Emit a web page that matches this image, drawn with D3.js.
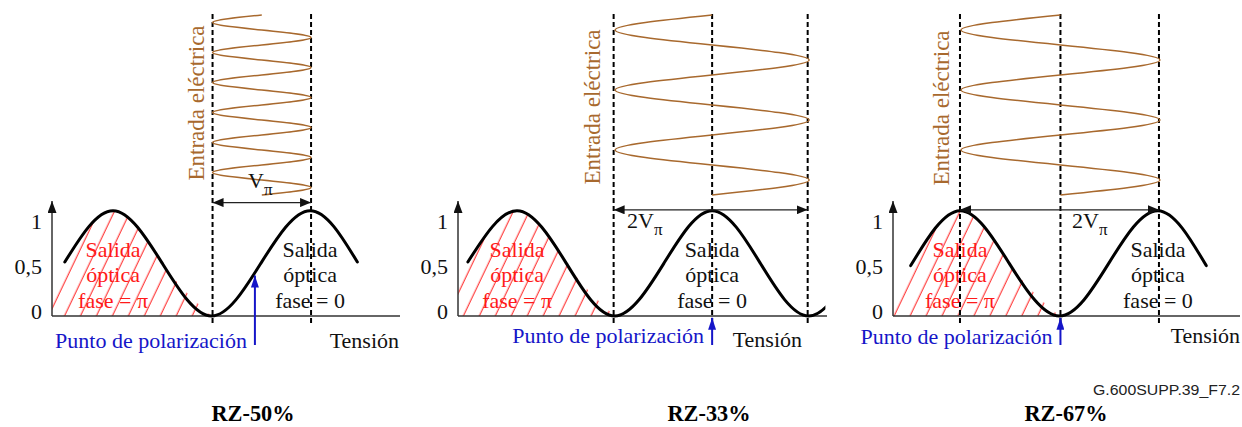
<!DOCTYPE html>
<html>
<head>
<meta charset="utf-8">
<script src="https://cdn.jsdelivr.net/npm/d3@7"></script>
<style>
  body { margin: 0; background: #fff; }
  svg { display: block; }
  text { font-family: "Liberation Serif", "Times New Roman", serif; }
</style>
</head>
<body>
<svg width="1242" height="427"></svg>
<script>
// Data (voltage in units of Vpi, optical output normalised)
var panelTitles = ["RZ-50%", "RZ-33%", "RZ-67%"];
var yTickValues = [0, 0.5, 1];
var yTickText = ["0", "0,5", "1"];

// transfer curve samples (quarter periods)
var optV = [
  [0.13, 0.62, 1.12, 1.62, 2.12, 2.62, 3.1],
  [0.1, 0.6, 1.1, 1.59, 2.09, 2.58, 3.07, 3.56, 4.05],
  [0.18, 0.68, 1.18, 1.69, 2.19, 2.69, 3.18]
];
var optP = [
  [0.6, 1.17, 0.585, 0, 0.585, 1.17, 0.6],
  [0.6, 1.17, 0.585, 0, 0.585, 1.17, 0.585, 0, 0.585],
  [0.56, 1.17, 0.585, 0, 0.585, 1.17, 0.56]
];
// where each drawn curve stops
var curveEnd = [3.2, 3.73, 3.25];
// hatched "fase = pi" region, from the axis to the first minimum
var hatchV = [
  [0, 0.13, 0.62, 1.12, 1.62],
  [0, 0.1, 0.6, 1.1, 1.59],
  [0, 0.18, 0.68, 1.18, 1.69]
];
var hatchP = [
  [0.33, 0.6, 1.17, 0.585, 0],
  [0.33, 0.6, 1.17, 0.585, 0],
  [0.25, 0.56, 1.17, 0.585, 0]
];

var dashV = [[1.63, 2.63], [1.58, 2.58, 3.55], [0.68, 1.7, 2.7]];
var biasV = [2.13, 2.58, 1.7];
var swingV = [0.5, 0.985, 1.01];
var arrowV = [2.06, 2.58, 1.7];
var arrowP = [0.45, -0.02, -0.02];
var spanLevel = [1.26, 1.18, 1.18];
var swingText = ["V", "2V", "2V"];

// electrical drive, sampled every quarter period (in units of the swing)
var driveLevels = [
  [0, -1, 0, 1, 0, -1, 0, 1, 0, -1, 0, 1, 0, -1, 0, 1, 0, -1, 0, 1, 0, -1, 0, 1, 0],
  [0, -1, 0, 1, 0, -1, 0, 1, 0, -1, 0, 1, 0],
  [0, -1, 0, 1, 0, -1, 0, 1, 0, -1, 0, 1, 0]
];

var redLines = ["Salida", "óptica", "fase = π"];
var blackLines = ["Salida", "óptica", "fase = 0"];

// layout
var panelLeft = [52, 458, 893],
  panelRight = [400, 827, 1240],
  vpiPx = 98.5,
  titleX = [253, 709, 1066],
  labelX = [248, 627, 1072],
  labelY = [188, 228, 228],
  entradaOff = [9, 14, 11],
  entradaY = [103, 107, 108],
  blueY = [348, 343, 344],
  tensionX = [399, 802, 1240],
  tensionY = [348, 347, 343],
  textBase = [257, 282, 308];

var brown = "#a8692e", blue = "#1515c8", red = "#ff1a1a";

var svg = d3.select("svg");
var defs = svg.append("defs");

defs.append("pattern")
  .attr("id", "hatch")
  .attr("patternUnits", "userSpaceOnUse")
  .attr("width", 14.4)
  .attr("height", 14.4)
  .attr("patternTransform", "rotate(25.5)")
  .append("line")
  .attr("x1", 7).attr("x2", 7)
  .attr("y1", 0).attr("y2", 14.4)
  .attr("stroke", red)
  .attr("stroke-width", 1);

function marker(id, color, w, h) {
  defs.append("marker")
    .attr("id", id)
    .attr("viewBox", "0 0 10 10")
    .attr("refX", 10)
    .attr("refY", 5)
    .attr("markerWidth", w)
    .attr("markerHeight", h)
    .attr("markerUnits", "userSpaceOnUse")
    .attr("preserveAspectRatio", "none")
    .attr("orient", "auto-start-reverse")
    .append("path")
    .attr("d", "M0,0L10,5L0,10Z")
    .attr("fill", color);
}
marker("arrBlack", "#111", 11, 9);
marker("arrAxis", "#111", 12, 9);
marker("arrBlue", blue, 12, 8);

var y = d3.scaleLinear().domain([0, 1]).range([316, 226]);

panelTitles.forEach(function (title, i) {
  var x = d3.scaleLinear().domain([0, 1]).range([panelLeft[i], panelLeft[i] + vpiPx]);
  var g = svg.append("g").attr("class", "panel");

  // clip for the end of the transfer curve
  defs.append("clipPath")
    .attr("id", "clip" + i)
    .append("rect")
    .attr("x", panelLeft[i])
    .attr("y", 150)
    .attr("width", x(curveEnd[i]) - panelLeft[i])
    .attr("height", 200);

  // hatched area under the first hump
  var area = d3.area()
    .x(function (d) { return x(d[0]); })
    .y0(y(0))
    .y1(function (d) { return y(d[1]); })
    .curve(d3.curveNatural);
  g.append("path")
    .datum(d3.zip(hatchV[i], hatchP[i]))
    .attr("d", area)
    .attr("fill", "url(#hatch)");

  // red text
  g.append("g").selectAll("text")
    .data(redLines)
    .join("text")
    .attr("x", x(optV[i][1]))
    .attr("y", function (d, k) { return textBase[k]; })
    .attr("text-anchor", "middle")
    .attr("font-size", 22)
    .attr("fill", red)
    .text(function (d) { return d; });

  // black text
  g.append("g").selectAll("text")
    .data(blackLines)
    .join("text")
    .attr("x", x(optV[i][5]))
    .attr("y", function (d, k) { return textBase[k]; })
    .attr("text-anchor", "middle")
    .attr("font-size", 22)
    .attr("fill", "#111")
    .text(function (d) { return d; });

  // dashed guides
  g.selectAll(".dash")
    .data(dashV[i])
    .join("line")
    .attr("class", "dash")
    .attr("x1", function (d) { return x(d); })
    .attr("x2", function (d) { return x(d); })
    .attr("y1", 14)
    .attr("y2", 325)
    .attr("stroke", "#000")
    .attr("stroke-width", 2)
    .attr("stroke-dasharray", "5,3");

  // axes
  g.append("line")
    .attr("x1", panelLeft[i]).attr("x2", panelRight[i])
    .attr("y1", y(0)).attr("y2", y(0))
    .attr("stroke", "#333").attr("stroke-width", 1.5);
  g.append("line")
    .attr("x1", panelLeft[i]).attr("x2", panelLeft[i])
    .attr("y1", y(0)).attr("y2", 201)
    .attr("stroke", "#333").attr("stroke-width", 1.5)
    .attr("marker-end", "url(#arrAxis)");

  var yAxis = g.append("g")
    .attr("transform", "translate(" + panelLeft[i] + ",0)")
    .call(d3.axisLeft(y)
      .tickValues(yTickValues)
      .tickFormat(function (d, k) { return yTickText[k]; })
      .tickSize(0)
      .tickPadding(10));
  yAxis.select(".domain").remove();
  yAxis.attr("font-size", 22);
  yAxis.selectAll(".tick text").attr("y", -5).attr("fill", "#111");

  // optical transfer curve
  var line = d3.line()
    .x(function (d) { return x(d[0]); })
    .y(function (d) { return y(d[1]); })
    .curve(d3.curveNatural);
  g.append("path")
    .datum(d3.zip(optV[i], optP[i]))
    .attr("d", line)
    .attr("clip-path", "url(#clip" + i + ")")
    .attr("fill", "none")
    .attr("stroke", "#000")
    .attr("stroke-width", 3)
    .attr("stroke-linecap", "round");

  // electrical drive signal
  var t = d3.scaleLinear().domain([0, driveLevels[i].length - 1]).range([15, 195]);
  var drive = d3.line()
    .x(function (d) { return x(biasV[i] + d * swingV[i]); })
    .y(function (d, k) { return t(k); })
    .curve(d3.curveNatural);
  g.append("path")
    .datum(driveLevels[i])
    .attr("d", drive)
    .attr("fill", "none")
    .attr("stroke", brown)
    .attr("stroke-width", 1.5);

  g.append("text")
    .attr("transform", "translate(" + (x(dashV[i][0]) - entradaOff[i]) + "," + entradaY[i] + ") rotate(-90)")
    .attr("text-anchor", "middle")
    .attr("font-size", 23)
    .attr("fill", brown)
    .text("Entrada eléctrica");

  // Vpi span arrow
  var dv = dashV[i];
  g.append("line")
    .attr("x1", x(dv[0])).attr("x2", x(dv[dv.length - 1]))
    .attr("y1", y(spanLevel[i])).attr("y2", y(spanLevel[i]))
    .attr("stroke", "#222").attr("stroke-width", 1.2)
    .attr("marker-start", "url(#arrBlack)")
    .attr("marker-end", "url(#arrBlack)");

  var lbl = g.append("text")
    .attr("x", labelX[i])
    .attr("y", labelY[i])
    .attr("font-size", 22)
    .attr("fill", "#111");
  lbl.append("tspan").text(swingText[i]);
  lbl.append("tspan").attr("dy", 7).attr("font-size", 17).text("π");

  // bias point
  g.append("line")
    .attr("x1", x(arrowV[i])).attr("x2", x(arrowV[i]))
    .attr("y1", 345).attr("y2", y(arrowP[i]))
    .attr("stroke", blue).attr("stroke-width", 2)
    .attr("marker-end", "url(#arrBlue)");
  g.append("text")
    .attr("x", x(arrowV[i]) - 8)
    .attr("y", blueY[i])
    .attr("text-anchor", "end")
    .attr("font-size", 22)
    .attr("fill", blue)
    .text("Punto de polarización");

  g.append("text")
    .attr("x", tensionX[i])
    .attr("y", tensionY[i])
    .attr("text-anchor", "end")
    .attr("font-size", 22)
    .attr("fill", "#111")
    .text("Tensión");

  svg.append("text")
    .attr("x", titleX[i])
    .attr("y", 421)
    .attr("text-anchor", "middle")
    .attr("font-size", 24)
    .attr("font-weight", "bold")
    .attr("textLength", 83)
    .attr("lengthAdjust", "spacingAndGlyphs")
    .text(title);
});

svg.append("text")
  .attr("x", 1240)
  .attr("y", 395)
  .attr("text-anchor", "end")
  .style("font-family", "'Liberation Sans', Arial, sans-serif")
  .attr("font-size", 14)
  .attr("textLength", 147)
  .attr("lengthAdjust", "spacingAndGlyphs")
  .attr("fill", "#222")
  .text("G.600SUPP.39_F7.2");
</script>
</body>
</html>
